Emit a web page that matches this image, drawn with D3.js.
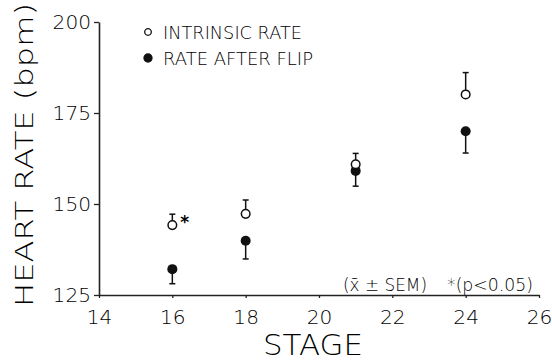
<!DOCTYPE html>
<html>
<head>
<meta charset="utf-8">
<script src="https://cdn.jsdelivr.net/npm/d3@7"></script>
<style>
  body { margin: 0; background: #fff; }
  svg { display: block; }
  text { font-family: "DejaVu Sans", sans-serif; font-weight: 200; fill: #000; }
</style>
</head>
<body>
<svg width="552" height="362"></svg>
<script>
// values
const stages = [16, 18, 21, 24];
const intrinsic = [144.2, 147.3, 160.9, 180.1];
const intrinsicSem = [3.0, 3.8, 3.0, 6.0];
const afterFlip = [132.1, 139.9, 159.1, 170.0];
const afterFlipSem = [4.0, 5.0, 4.2, 6.0];
const xTicks = [14, 16, 18, 20, 22, 24, 26];
const yTicks = [125, 150, 175, 200];
const significant = [16];

const svg = d3.select('svg');

const x = d3.scaleLinear().domain([14, 26]).range([99, 539]);
const y = d3.scaleLinear().domain([125, 200]).range([295, 22]);

// axes
const xAxis = svg.append('g')
    .attr('transform', `translate(0,${y(125)})`)
    .call(d3.axisBottom(x).tickValues(xTicks).tickSize(3).tickSizeOuter(0).tickPadding(8));
const yAxis = svg.append('g')
    .attr('transform', `translate(${x(14)},0)`)
    .call(d3.axisLeft(y).tickValues(yTicks).tickSize(5).tickSizeOuter(0).tickPadding(3));

[xAxis, yAxis].forEach(g => {
    g.select('.domain').attr('stroke', '#222').attr('stroke-width', 1.6);
    g.selectAll('.tick line').attr('stroke', '#222').attr('stroke-width', 1.3);
    g.selectAll('.tick text')
        .attr('font-size', 20)
        .attr('textLength', d => String(d).length * 12.8)
        .attr('lengthAdjust', 'spacingAndGlyphs');
});
xAxis.selectAll('.tick text').attr('dy', '0.9em');

// axis titles
svg.append('text')
    .attr('x', 313).attr('y', 355)
    .attr('text-anchor', 'middle')
    .attr('font-size', 28)
    .attr('textLength', 100)
    .attr('lengthAdjust', 'spacingAndGlyphs')
    .text('STAGE');

svg.append('text')
    .attr('transform', 'translate(33,155) rotate(-90)')
    .attr('text-anchor', 'middle')
    .attr('font-size', 25)
    .attr('textLength', 304)
    .attr('lengthAdjust', 'spacingAndGlyphs')
    .text('HEART RATE (bpm)');

// error bars: intrinsic upward, after flip downward
const bars = svg.append('g').attr('stroke', '#111').attr('stroke-width', 1.5);
stages.forEach((s, i) => {
    const cx = x(s);
    const top = y(intrinsic[i] + intrinsicSem[i]);
    bars.append('line').attr('x1', cx).attr('x2', cx).attr('y1', y(intrinsic[i])).attr('y2', top);
    bars.append('line').attr('x1', cx - 3).attr('x2', cx + 3).attr('y1', top).attr('y2', top);
    const bot = y(afterFlip[i] - afterFlipSem[i]);
    bars.append('line').attr('x1', cx).attr('x2', cx).attr('y1', y(afterFlip[i])).attr('y2', bot);
    bars.append('line').attr('x1', cx - 3).attr('x2', cx + 3).attr('y1', bot).attr('y2', bot);
});

// points
svg.append('g').selectAll('circle')
    .data(stages.map((s, i) => [s, afterFlip[i]]))
    .join('circle')
    .attr('cx', d => x(d[0])).attr('cy', d => y(d[1]))
    .attr('r', 5).attr('fill', '#111');

svg.append('g').selectAll('circle')
    .data(stages.map((s, i) => [s, intrinsic[i]]))
    .join('circle')
    .attr('cx', d => x(d[0])).attr('cy', d => y(d[1]))
    .attr('r', 4.3).attr('fill', '#fff').attr('stroke', '#111').attr('stroke-width', 1.5);

// significance marks
significant.forEach(s => {
    const i = stages.indexOf(s);
    svg.append('text')
        .attr('x', x(s) + 8).attr('y', y(intrinsic[i]) + 3)
        .style('font-size', '17px').style('font-weight', 'bold')
        .text('*');
});

// legend
const legend = [
    {label: 'INTRINSIC RATE', filled: false},
    {label: 'RATE AFTER FLIP', filled: true}
];
const lg = svg.append('g').attr('transform', 'translate(148,32)');
legend.forEach((d, i) => {
    const row = lg.append('g').attr('transform', `translate(0,${i * 26})`);
    row.append('circle')
        .attr('r', d.filled ? 4 : 3.3)
        .attr('fill', d.filled ? '#111' : '#fff')
        .attr('stroke', '#111').attr('stroke-width', 1.3);
    row.append('text')
        .attr('x', 15).attr('y', 6.5)
        .attr('font-size', 18)
        .attr('textLength', i === 0 ? 139 : 150)
        .attr('lengthAdjust', 'spacingAndGlyphs')
        .text(d.label);
});

// notes
svg.append('text')
    .attr('x', 343).attr('y', 291)
    .attr('font-size', 18)
    .attr('textLength', 84)
    .attr('lengthAdjust', 'spacingAndGlyphs')
    .text('(x\u0304 \u00b1 SEM)');
svg.append('text')
    .attr('x', 447).attr('y', 291)
    .attr('font-size', 18)
    .attr('textLength', 86)
    .attr('lengthAdjust', 'spacingAndGlyphs')
    .text('*(p<0.05)');
</script>
</body>
</html>
